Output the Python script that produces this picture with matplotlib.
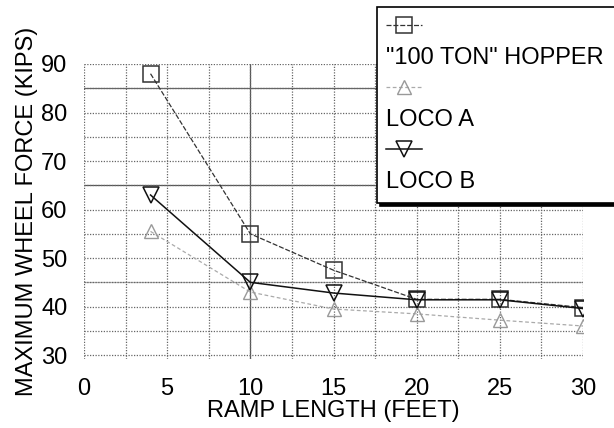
import numpy as np
import matplotlib
matplotlib.use("Agg")
import matplotlib.pyplot as plt
from matplotlib.lines import Line2D

plt.rcParams['font.family'] = ['Liberation Sans', 'DejaVu Sans']

#data---------------------------------------------------------------------------
ramp_length = [4, 10, 15, 20, 25, 30]
hopper = [88.0, 55.0, 47.5, 41.5, 41.5, 39.8]
loco_a = [55.5, 43.0, 39.5, 38.5, 37.2, 36.0]
loco_b = [63.0, 45.0, 42.8, 41.4, 41.4, 39.6]
labels = ['"100 TON" HOPPER', 'LOCO A', 'LOCO B']
x_ticks = [0, 5, 10, 15, 20, 25, 30]
y_ticks = [30, 40, 50, 60, 70, 80, 90]

#figure-------------------------------------------------------------------------
fig = plt.figure(figsize=(6.14, 4.28), dpi=100)
ax = fig.add_axes([84/614, 1-359/428, 499/614, 295/428])

#grid, dotted with a few darker lines like the scan
ax.set_xticks(x_ticks)
ax.set_xticks(np.arange(2.5, 30, 5), minor=True)
ax.set_yticks(y_ticks)
ax.set_yticks(np.arange(35, 90, 10), minor=True)
ax.grid(which='both', linestyle=(0, (1, 1.2)), color='#666666', linewidth=0.9)
for yv, c in [(85, '#666666'), (65, '#555555'), (45, '#b0b0b0')]:
    ax.axhline(yv, color=c, linewidth=0.9, zorder=1)
ax.axvline(10, color='#555555', linewidth=0.9, zorder=1)

#series
l1, = ax.plot(ramp_length, hopper, color='#333333', linestyle=(0, (4, 1.5)), linewidth=0.9,
              marker='s', markersize=11, markerfacecolor='none', markeredgecolor='#333333',
              markeredgewidth=1.1, zorder=3)
l2, = ax.plot(ramp_length, loco_a, color='#aaaaaa', linestyle=(0, (3, 2)), linewidth=0.9,
              marker='^', markersize=10, markerfacecolor='none', markeredgecolor='#999999',
              markeredgewidth=1.0, zorder=3)
l3, = ax.plot(ramp_length, loco_b, color='#111111', linestyle='-', linewidth=1.1,
              marker='v', markersize=11, markerfacecolor='none', markeredgecolor='#111111',
              markeredgewidth=1.1, zorder=3)

ax.set_xlim(0, 30)
ax.set_ylim(29.2, 90)
for s in ax.spines.values():
    s.set_visible(False)
ax.tick_params(which='both', length=0, labelsize=17)
ax.tick_params(axis='y', pad=12)
ax.tick_params(axis='x', pad=14)
ax.set_xlabel('RAMP LENGTH (FEET)', fontsize=17, labelpad=0)
ax.set_ylabel('MAXIMUM WHEEL FORCE (KIPS)', fontsize=17, labelpad=2)

#legend: marker sample on one row, name on the next
blank = Line2D([], [], linestyle='none')
handles = [l1, blank, l2, blank, l3, blank]
names = ['', labels[0], '', labels[1], '', labels[2]]
leg = fig.legend(handles, names, loc='upper left',
                 bbox_to_anchor=(377/614, 0, 300/614, 1-7/428),
                 bbox_transform=fig.transFigure, mode='expand', borderaxespad=0,
                 fontsize=17, handlelength=1.5, handletextpad=-1.5, numpoints=1,
                 labelspacing=0.38, borderpad=0.4, fancybox=False,
                 shadow={'color': 'black', 'alpha': 1})
leg.get_frame().set_edgecolor('black')
leg.get_frame().set_linewidth(1.2)
leg.get_frame().set_alpha(1)

plt.savefig('out.png', dpi=100)
plt.close()
